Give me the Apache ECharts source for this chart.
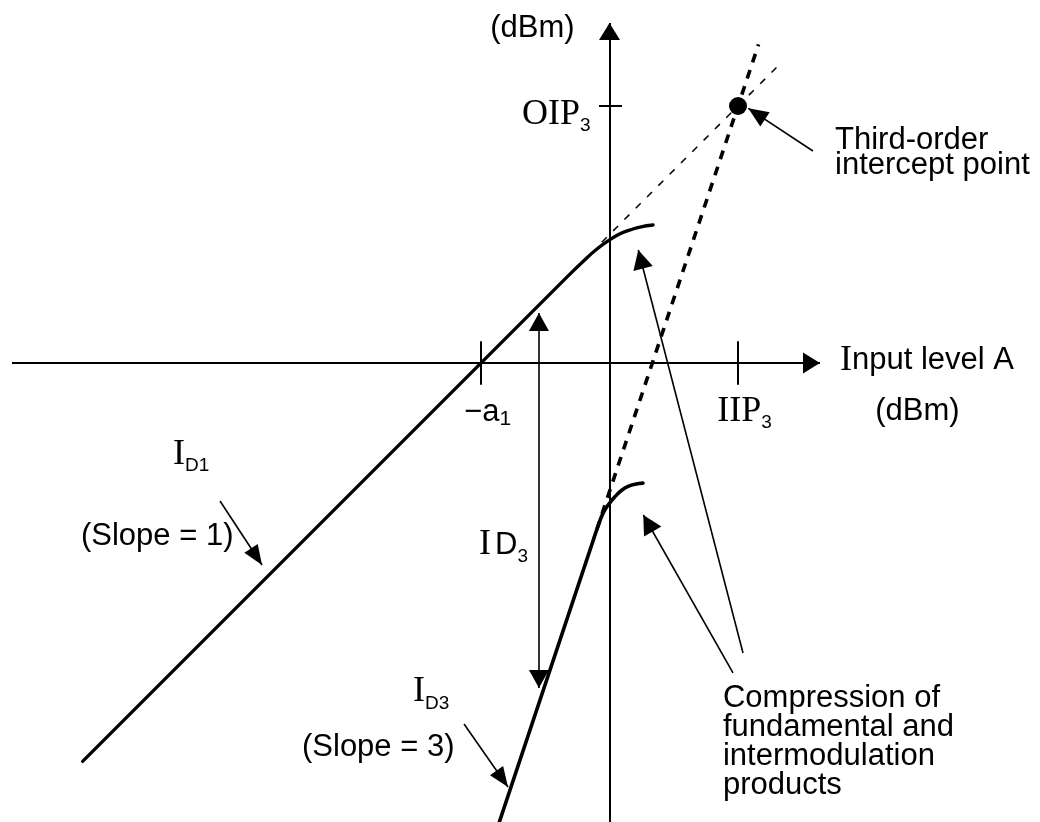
<!DOCTYPE html>
<html>
<head>
<meta charset="utf-8">
<script src="https://cdn.jsdelivr.net/npm/echarts@6/dist/echarts.min.js"></script>
<style>
  html, body { margin: 0; padding: 0; background: #fff; }
  #chart { width: 1040px; height: 822px; }
</style>
</head>
<body>
<div id="chart"></div>
<script>
// Third-order intercept diagram: fundamental I_D1 (slope 1) and third-order
// product I_D3 (slope 3) against input level A, both in dBm.

const A1 = 10;    // -a1: input level where the fundamental output crosses 0 dBm
const IIP3 = 10;  // input third-order intercept
const OIP3 = 20;  // output third-order intercept

// fundamental output, linear then compressing
const id1Input  = [-41, -3.2, -2.06, -1, 0.04, 0.82, 1.6, 2.37, 3.39];
const id1Output = [-31, 6.8, 7.9, 8.85, 9.6, 10.06, 10.36, 10.58, 10.74];
// linear extrapolation of the fundamental up to the intercept
const id1ExtInput  = [-0.6, 13.4];
const id1ExtOutput = [9.4, 23.4];

// third-order product, linear then compressing
const id3Input  = [-8.6, -1.3, -0.9, -0.5, -0.05, 0.45, 0.95, 1.5, 2.0, 2.6];
const id3Output = [-35.8, -13.9, -12.72, -11.68, -10.98, -10.38, -9.9, -9.58, -9.43, -9.35];
// linear extrapolation of the third-order product
const id3ExtInput  = [-1.0, 11.6];
const id3ExtOutput = [-13, 24.8];

// ID3 spacing marker: input level and the two output levels it spans
const id3SpanInput = -5.49;
const id3SpanTop = 3.89;
const id3SpanBottom = -25.29;

// pointer arrows: [from, to]
const pointerSlope1    = [[-30.31, -10.74], [-27.04, -15.72]];
const pointerSlope3    = [[-11.32, -28.09], [-7.90, -33.0]];
const pointerIntercept = [[15.83, 16.50], [10.80, 19.82]];
const pointerCompFund  = [[10.39, -22.57], [2.24, 8.79]];
const pointerCompIM    = [[9.61, -24.12], [2.63, -11.83]];

// axis extents
const inputMin = -47.43, inputMax = 33.5;
const outputMin = -35.72, outputMax = 28.25;
const axisInputStart = -46.5, axisInputEnd = 16.38;
const axisOutputStart = -35.72, axisOutputEnd = 26.46;
const tickHalf = 1.7;
const oipTick = [-0.82, 0.97];

const zip = (xs, ys) => xs.map((x, i) => [x, ys[i]]);

const SERIF = "'Liberation Serif','DejaVu Serif',serif";
const SANS = "'Liberation Sans','Helvetica',Arial,sans-serif";
const INK = '#000';

const rich = {
  s: { fontFamily: SERIF, fontSize: 36, lineHeight: 42, color: INK },
  si: { fontFamily: SERIF, fontSize: 36, lineHeight: 42, color: INK, padding: [0, 4, 0, 0] },
  n: { fontFamily: SANS, fontSize: 31, lineHeight: 42, color: INK },
  b: { fontFamily: SANS, fontSize: 19, verticalAlign: 'bottom', color: INK },
  m: { fontFamily: SANS, fontSize: 31, lineHeight: 35, color: INK },
  c: { fontFamily: SANS, fontSize: 21, verticalAlign: 'bottom', color: INK }
};

function plainEnd(pt) { return { coord: pt, symbol: 'none' }; }
function arrowEnd(pt, w, h) {
  return { coord: pt, symbol: 'triangle', symbolSize: [w, h], symbolOffset: [0, h / 2] };
}

function textItem(pt, formatter, align, extra) {
  return {
    value: pt,
    label: Object.assign({ formatter: formatter, align: align }, extra || {})
  };
}

const labelItems = [
  textItem([-6.0, 26.07], '(dBm)', 'center'),
  textItem([-1.48, 19.36], '{s|OIP}{b|3}', 'right'),
  textItem([17.94, 0.23], '{s|I}{n|nput level A}', 'left'),
  textItem([23.96, -3.77], '(dBm)', 'center'),
  textItem([10.51, -3.75], '{s|IIP}{b|3}', 'center'),
  textItem([-9.49, -3.84], '{m|\u2212a}{c|1}', 'center'),
  textItem([-33.97, -7.1], '{s|I}{b|D1}', 'left'),
  textItem([-41.13, -13.46], '(Slope = 1)', 'left'),
  textItem([-6.34, -14.16], '{si|I}{n|D}{b|3}', 'right'),
  textItem([-15.29, -25.6], '{s|I}{b|D3}', 'left'),
  textItem([-23.93, -29.88], '(Slope = 3)', 'left'),
  textItem([17.55, 16.31], 'Third-order\nintercept point', 'left', { lineHeight: 25 }),
  textItem([8.83, -29.49], 'Compression of\nfundamental and\nintermodulation\nproducts', 'left', { lineHeight: 29.2 })
];

const chart = echarts.init(document.getElementById('chart'), null, { renderer: 'canvas' });

const markBase = {
  silent: true,
  animation: false,
  symbol: ['none', 'none'],
  label: { show: false },
  emphasis: { disabled: true }
};

chart.setOption({
  animation: false,
  backgroundColor: '#fff',
  grid: { left: 0, right: 0, top: 0, bottom: 0, containLabel: false },
  xAxis: { type: 'value', min: inputMin, max: inputMax, show: false },
  yAxis: { type: 'value', min: outputMin, max: outputMax, show: false },
  series: [
    {
      // axes with arrowheads and tick marks
      name: 'axes',
      type: 'line',
      data: [],
      silent: true,
      markLine: Object.assign({}, markBase, {
        lineStyle: { color: INK, width: 2, type: 'solid', opacity: 1 },
        data: [
          [plainEnd([axisInputStart, 0]), arrowEnd([axisInputEnd, 0], 21, 17)],
          [plainEnd([0, axisOutputStart]), arrowEnd([0, axisOutputEnd], 21, 17)],
          [plainEnd([-A1, -tickHalf]), plainEnd([-A1, tickHalf])],
          [plainEnd([IIP3, -tickHalf]), plainEnd([IIP3, tickHalf])],
          [plainEnd([oipTick[0], OIP3]), plainEnd([oipTick[1], OIP3])]
        ]
      })
    },
    {
      name: 'pointers',
      type: 'line',
      data: [],
      silent: true,
      markLine: Object.assign({}, markBase, {
        lineStyle: { color: INK, width: 1.6, type: 'solid', opacity: 1 },
        data: [
          [plainEnd(pointerSlope1[0]), arrowEnd(pointerSlope1[1], 16, 20)],
          [plainEnd(pointerSlope3[0]), arrowEnd(pointerSlope3[1], 16, 20)],
          [plainEnd(pointerIntercept[0]), arrowEnd(pointerIntercept[1], 17, 20)],
          [plainEnd(pointerCompFund[0]), arrowEnd(pointerCompFund[1], 20, 19)],
          [plainEnd(pointerCompIM[0]), arrowEnd(pointerCompIM[1], 20, 19)],
          [arrowEnd([id3SpanInput, id3SpanTop], 20, 18), arrowEnd([id3SpanInput, id3SpanBottom], 20, 18)]
        ]
      })
    },
    {
      name: 'I_D1 extrapolated',
      type: 'line',
      data: zip(id1ExtInput, id1ExtOutput),
      showSymbol: false,
      silent: true,
      lineStyle: { color: INK, width: 1.5, type: [7, 9] }
    },
    {
      name: 'I_D3 extrapolated',
      type: 'line',
      data: zip(id3ExtInput, id3ExtOutput),
      showSymbol: false,
      silent: true,
      lineStyle: { color: INK, width: 3.6, type: [9, 8] }
    },
    {
      name: 'I_D1',
      type: 'line',
      data: zip(id1Input, id1Output),
      smooth: 0.5,
      showSymbol: false,
      silent: true,
      lineStyle: { color: INK, width: 3.3, cap: 'round' }
    },
    {
      name: 'I_D3',
      type: 'line',
      data: zip(id3Input, id3Output),
      smooth: 0.5,
      showSymbol: false,
      silent: true,
      lineStyle: { color: INK, width: 3.6, cap: 'round' }
    },
    {
      name: 'intercept',
      type: 'scatter',
      data: [[IIP3, OIP3]],
      symbol: 'circle',
      symbolSize: 18,
      silent: true,
      itemStyle: { color: INK, opacity: 1 }
    },
    {
      name: 'labels',
      type: 'scatter',
      data: labelItems,
      symbolSize: 0,
      silent: true,
      itemStyle: { color: 'transparent', opacity: 1 },
      label: {
        show: true,
        position: 'inside',
        verticalAlign: 'middle',
        fontFamily: SANS,
        fontSize: 31,
        color: INK,
        opacity: 1,
        rich: rich
      }
    }
  ]
});
</script>
</body>
</html>
